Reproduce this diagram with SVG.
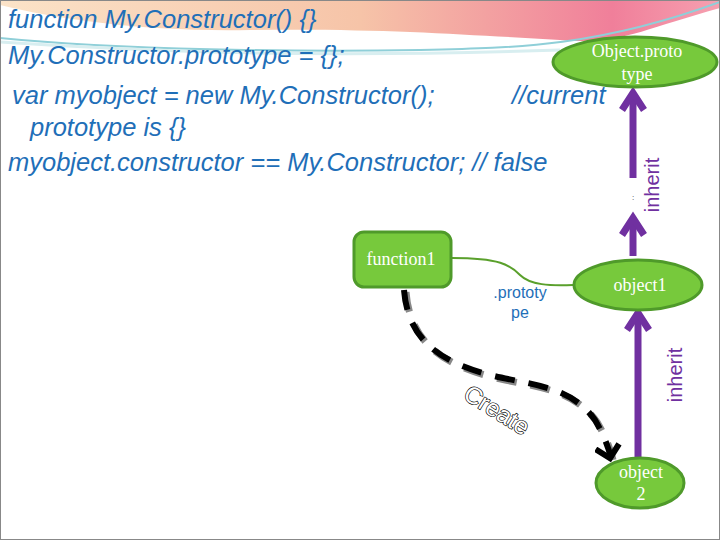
<svg xmlns="http://www.w3.org/2000/svg" width="720" height="540" viewBox="0 0 720 540">
<defs>
<linearGradient id="sw" x1="0" y1="0" x2="1" y2="0">
<stop offset="0" stop-color="#fbe3c8"/><stop offset="0.5" stop-color="#f6c4a8"/><stop offset="0.85" stop-color="#f07f9a"/><stop offset="1" stop-color="#f6a0b0"/>
</linearGradient>
<marker id="ba" viewBox="-14 -14 28 28" refX="0" refY="0" markerWidth="28" markerHeight="28" markerUnits="userSpaceOnUse" orient="auto"><path d="M-12,-11 L0,1 L-12,13" fill="none" stroke="#000" stroke-width="6"/></marker>
</defs>
<style>
.code{font-family:"Liberation Sans",Arial,sans-serif;font-style:italic;font-size:25.5px;fill:#1f6fb8}
.nd{fill:#77c93c;stroke:#4f9a2a;stroke-width:3}
.nt{font-family:"Liberation Serif","DejaVu Serif",serif;font-size:18px;fill:#fff;text-anchor:middle}
.inh{font-family:"Liberation Sans",Arial,sans-serif;font-size:20px;fill:#7030a0;text-anchor:middle}
.pu{stroke:#7030a0;stroke-width:7;fill:none}
</style>
<rect width="720" height="540" fill="#fff"/>
<path d="M0,0 H720 V8 C640,30 620,45 560,40 C470,35 380,28 250,30 C150,32 60,20 0,5 Z" fill="url(#sw)"/>
<path d="M0,38 C120,50 300,52 420,50 C520,48 600,46 720,2" fill="none" stroke="#8fcfd8" stroke-width="2"/>
<path d="M0,42 C150,52 320,58 560,50" fill="none" stroke="#d8eef0" stroke-width="3"/>
<g id="code">
<text class="code" x="8" y="28">function My.Constructor() {}</text>
<text class="code" x="8" y="64">My.Constructor.prototype = {};</text>
<text class="code" x="12" y="104">var myobject = new My.Constructor();</text>
<text class="code" x="512" y="104">//current</text>
<text class="code" x="30" y="136">prototype is {}</text>
<text class="code" x="8" y="171">myobject.constructor == My.Constructor; // false</text>
</g>
<g id="connectors">
<path d="M452,258 C500,258 510,265 520,275 C530,285 550,286 573,285" fill="none" stroke="#5aa02c" stroke-width="2"/>
<text x="520" y="298" font-family="Liberation Sans,Arial,sans-serif" font-size="16" fill="#1f6fb8" text-anchor="middle">.prototy</text>
<text x="520" y="318" font-family="Liberation Sans,Arial,sans-serif" font-size="16" fill="#1f6fb8" text-anchor="middle">pe</text>
<line class="pu" x1="633" y1="178" x2="633" y2="94"/>
<path class="pu" d="M622,110 L633,93 L644,110"/>
<line class="pu" x1="633" y1="256" x2="633" y2="220"/>
<path class="pu" d="M622,235 L633,218 L644,235"/>
<text x="632" y="200" font-family="Liberation Sans,Arial,sans-serif" font-size="8" fill="#333">:</text>
<text class="inh" transform="translate(659,185) rotate(-90)">inherit</text>
<line class="pu" x1="638" y1="457" x2="638" y2="314"/>
<path class="pu" d="M627,330 L638,313 L649,330"/>
<text class="inh" transform="translate(682,375) rotate(-90)">inherit</text>
<path d="M404,290 C408,340 440,362 490,375 C530,385 570,385 595,420 C602,432 608,445 611,458" fill="none" stroke="#888" stroke-width="7" stroke-dasharray="20,14" transform="translate(2,2)"/>
<path d="M404,290 C408,340 440,362 490,375 C530,385 570,385 595,420 C602,432 608,445 611,458" fill="none" stroke="#000" stroke-width="6" stroke-dasharray="20,14" marker-end="url(#ba)"/>
<text transform="translate(462,398) rotate(32)" font-family="Liberation Sans,Arial,sans-serif" font-size="24" fill="#fff" stroke="#000" stroke-width="1.3" paint-order="stroke">Create</text>
</g>
<g id="objproto"><ellipse class="nd" cx="635" cy="62" rx="82" ry="25"/><text class="nt" x="637" y="57">Object.proto</text><text class="nt" x="637" y="80">type</text></g>
<g id="function1"><rect class="nd" x="354" y="232" width="97" height="55" rx="10"/><text class="nt" x="401" y="265">function1</text></g>
<g id="object1"><ellipse class="nd" cx="638" cy="285" rx="64" ry="25"/><text class="nt" x="640" y="291">object1</text></g>
<g id="object2"><ellipse class="nd" cx="640" cy="483" rx="44" ry="25"/><text class="nt" x="641" y="478">object</text><text class="nt" x="641" y="500">2</text></g>
<rect x="0.5" y="0.5" width="719" height="539" fill="none" stroke="#888"/>
</svg>
